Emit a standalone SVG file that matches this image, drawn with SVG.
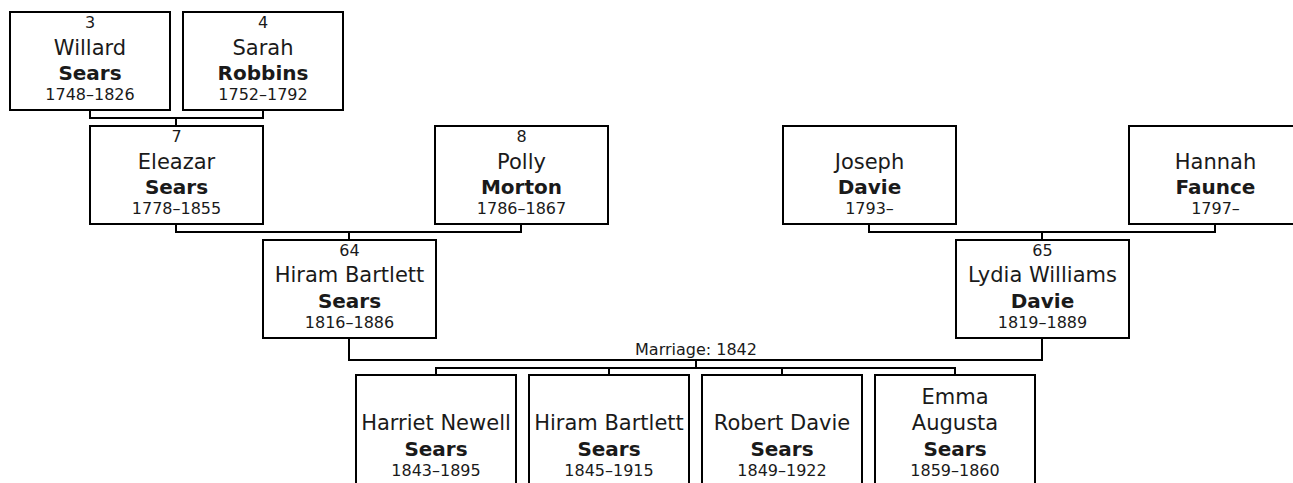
<svg xmlns="http://www.w3.org/2000/svg" width="1293" height="483" viewBox="0 0 1293 483">
<style>
.box{fill:#fff;stroke:#000;stroke-width:2}
.ln{fill:none;stroke:#000;stroke-width:2}
text{font-family:"DejaVu Sans",Verdana,sans-serif;fill:#1a1a1a;text-anchor:middle}
.s{font-size:16px}
.n{font-size:21px}
.b{font-size:20px;font-weight:bold}
</style>
<rect width="1293" height="483" fill="#fff"/>
<g id="connectors">
<path class="ln" d="M90 110 V118 H263 V110 M176 118 V126"/>
<path class="ln" d="M176 224 V232 H521 V224 M349 232 V240"/>
<path class="ln" d="M869 224 V232 H1215 V224 M1042 232 V240"/>
<path class="ln" d="M349 338 V360 H1042 V338 M696 360 V368 M436 375 V368 H955 V375 M609 368 V375 M782 368 V375"/>
<text class="s" x="696" y="355">Marriage: 1842</text>
</g>
<g id="n3">
<rect class="box" x="10" y="12" width="160" height="98"/>
<text class="s" x="90" y="28">3</text>
<text class="n" x="90" y="55">Willard</text>
<text class="b" x="90" y="80">Sears</text>
<text class="s" x="90" y="100">1748–1826</text>
</g>
<g id="n4">
<rect class="box" x="183" y="12" width="160" height="98"/>
<text class="s" x="263" y="28">4</text>
<text class="n" x="263" y="55">Sarah</text>
<text class="b" x="263" y="80">Robbins</text>
<text class="s" x="263" y="100">1752–1792</text>
</g>
<g id="n7">
<rect class="box" x="90" y="126" width="173" height="98"/>
<text class="s" x="176.5" y="142">7</text>
<text class="n" x="176.5" y="169">Eleazar</text>
<text class="b" x="176.5" y="194">Sears</text>
<text class="s" x="176.5" y="214">1778–1855</text>
</g>
<g id="n8">
<rect class="box" x="435" y="126" width="173" height="98"/>
<text class="s" x="521.5" y="142">8</text>
<text class="n" x="521.5" y="169">Polly</text>
<text class="b" x="521.5" y="194">Morton</text>
<text class="s" x="521.5" y="214">1786–1867</text>
</g>
<g id="joseph">
<rect class="box" x="783" y="126" width="173" height="98"/>
<text class="n" x="869.5" y="169">Joseph</text>
<text class="b" x="869.5" y="194">Davie</text>
<text class="s" x="869.5" y="214">1793–</text>
</g>
<g id="hannah">
<rect class="box" x="1129" y="126" width="173" height="98"/>
<text class="n" x="1215.5" y="169">Hannah</text>
<text class="b" x="1215.5" y="194">Faunce</text>
<text class="s" x="1215.5" y="214">1797–</text>
</g>
<g id="n64">
<rect class="box" x="263" y="240" width="173" height="98"/>
<text class="s" x="349.5" y="256">64</text>
<text class="n" x="349.5" y="282">Hiram Bartlett</text>
<text class="b" x="349.5" y="308">Sears</text>
<text class="s" x="349.5" y="328">1816–1886</text>
</g>
<g id="n65">
<rect class="box" x="956" y="240" width="173" height="98"/>
<text class="s" x="1042.5" y="256">65</text>
<text class="n" x="1042.5" y="282">Lydia Williams</text>
<text class="b" x="1042.5" y="308">Davie</text>
<text class="s" x="1042.5" y="328">1819–1889</text>
</g>
<g id="harriet">
<rect class="box" x="356" y="375" width="160" height="130"/>
<text class="n" x="436" y="430">Harriet Newell</text>
<text class="b" x="436" y="456">Sears</text>
<text class="s" x="436" y="476">1843–1895</text>
</g>
<g id="hiramjr">
<rect class="box" x="529" y="375" width="160" height="130"/>
<text class="n" x="609" y="430">Hiram Bartlett</text>
<text class="b" x="609" y="456">Sears</text>
<text class="s" x="609" y="476">1845–1915</text>
</g>
<g id="robert">
<rect class="box" x="702" y="375" width="160" height="130"/>
<text class="n" x="782" y="430">Robert Davie</text>
<text class="b" x="782" y="456">Sears</text>
<text class="s" x="782" y="476">1849–1922</text>
</g>
<g id="emma">
<rect class="box" x="875" y="375" width="160" height="130"/>
<text class="n" x="955" y="404">Emma</text>
<text class="n" x="955" y="430">Augusta</text>
<text class="b" x="955" y="456">Sears</text>
<text class="s" x="955" y="476">1859–1860</text>
</g>
</svg>
